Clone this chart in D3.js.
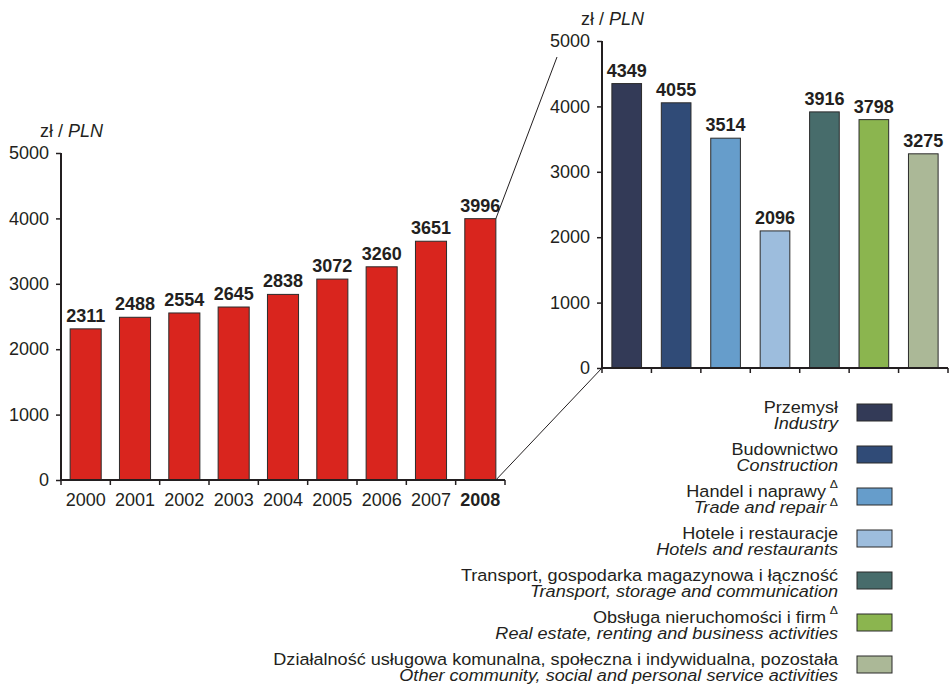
<!DOCTYPE html>
<html><head><meta charset="utf-8">
<script src="https://cdn.jsdelivr.net/npm/d3@7"></script>
<style>
body{margin:0;background:#fff;}
svg text{font-family:"Liberation Sans",Arial,sans-serif;fill:#231f20;}
</style></head>
<body><svg id="c" width="950" height="685"></svg>
<script>
const years = ["2000","2001","2002","2003","2004","2005","2006","2007","2008"];
const yearValues = [2311,2488,2554,2645,2838,3072,3260,3651,3996];
const sectors = ["Industry","Construction","Trade","Hotels","Transport","RealEstate","Other"];
const sectorValues = [4349,4055,3514,2096,3916,3798,3275];
const sectorColors = ["#333a57","#304b77","#669dcb","#9dbddd","#476c6b","#8bb54f","#abb897"];
const legendPL = ["Przemysł","Budownictwo","Handel i naprawy","Hotele i restauracje","Transport, gospodarka magazynowa i łączność","Obsługa nieruchomości i firm","Działalność usługowa komunalna, społeczna i indywidualna, pozostała"];
const legendEN = ["Industry","Construction","Trade and repair","Hotels and restaurants","Transport, storage and communication","Real estate, renting and business activities","Other community, social and personal service activities"];
const legendDeltaPL = [false,false,true,false,false,true,false];
const legendDeltaEN = [false,false,true,false,false,false,false];
const yTicks = [0,1000,2000,3000,4000,5000];
const unitPL = "zł", unitEN = "PLN";

const svg = d3.select("#c");
const ink = "#231f20";
const FS = "18px";

function chart(g, cats, vals, colors, xr, yr, pad, showLabels, boldLast){
  const x = d3.scaleBand().domain(cats).range(xr).paddingInner(pad).paddingOuter(pad/2);
  const y = d3.scaleLinear().domain([0,5000]).range(yr);
  g.selectAll("rect.bar").data(vals).join("rect").attr("class","bar")
    .attr("x",(d,i)=>x(cats[i])).attr("width",x.bandwidth())
    .attr("y",d=>y(d)).attr("height",d=>y(0)-y(d))
    .attr("fill",(d,i)=>colors[i]).attr("stroke","#2b2b2b").attr("stroke-width",1);
  g.selectAll("text.val").data(vals).join("text").attr("class","val")
    .attr("x",(d,i)=>x(cats[i])+x.bandwidth()/2).attr("y",d=>y(d)-7)
    .attr("text-anchor","middle").style("font-size",FS).style("font-weight","bold")
    .text(d=>d);
  const ya = g.append("g").attr("transform",`translate(${xr[0]},0)`)
    .call(d3.axisLeft(y).tickValues(yTicks).tickSize(5).tickPadding(7).tickFormat(d3.format("d")));
  ya.select(".domain").attr("stroke",ink).attr("stroke-width",2).attr("d",`M0,${y(5000)}V${y(0)}`);
  ya.selectAll(".tick line").attr("stroke",ink).attr("stroke-width",1.5);
  ya.selectAll(".tick text").style("font-size",FS).attr("fill",ink);
  const xa = g.append("g").attr("transform",`translate(0,${y(0)})`)
    .call(d3.axisBottom(x).tickSize(0).tickPadding(13));
  xa.select(".domain").attr("stroke",ink).attr("stroke-width",2).attr("d",`M${xr[0]},0H${xr[1]}`);
  xa.selectAll(".tick text").style("font-size",FS).attr("fill",ink)
    .style("font-weight",(d,i)=>boldLast && i===cats.length-1?"bold":"normal")
    .style("display",showLabels?null:"none");
  const bounds = d3.range(cats.length+1).map(i=>xr[0]+i*x.step());
  xa.selectAll("line.bt").data(bounds).join("line").attr("class","bt")
    .attr("x1",d=>d).attr("x2",d=>d).attr("y1",0).attr("y2",5)
    .attr("stroke",ink).attr("stroke-width",1.5);
  const u = g.append("text").attr("x",xr[0]-21).attr("y",y(5000)-16).style("font-size",FS);
  u.append("tspan").text(unitPL+" / ");
  u.append("tspan").style("font-style","italic").text(unitEN);
  return {x,y};
}

const L = chart(svg.append("g"), years, yearValues, years.map(()=>"#d9251e"), [61,505], [480,153], 0.37, true, true);
const R = chart(svg.append("g"), sectors, sectorValues, sectorColors, [602,948], [368,41], 0.4, false, false);

const last = years[years.length-1];
const xe = L.x(last)+L.x.bandwidth();
svg.append("line").attr("x1",xe).attr("y1",L.y(yearValues[yearValues.length-1])).attr("x2",557).attr("y2",57)
  .attr("stroke",ink).attr("stroke-width",1);
svg.append("line").attr("x1",xe).attr("y1",L.y(0)).attr("x2",602).attr("y2",R.y(0))
  .attr("stroke",ink).attr("stroke-width",1);

const lg = svg.append("g");
const rows = lg.selectAll("g.row").data(sectors).join("g").attr("class","row")
  .attr("transform",(d,i)=>`translate(0,${404+i*42})`);
rows.append("rect").attr("x",857).attr("y",0).attr("width",35).attr("height",17)
  .attr("fill",(d,i)=>sectorColors[i]).attr("stroke","#2b2b2b").attr("stroke-width",1);
rows.each(function(d,i){
  const r = d3.select(this).append("g").attr("transform","translate(838,0) scale(1.11,1)");
  const t1 = r.append("text").attr("x",0).attr("y",9.3).attr("text-anchor","end").style("font-size","16.3px");
  t1.append("tspan").text(legendPL[i]);
  if(legendDeltaPL[i]) t1.append("tspan").attr("dy",-9).attr("dx",3.5).style("font-size","11px").text("Δ");
  const t2 = r.append("text").attr("x",0).attr("y",25.3).attr("text-anchor","end").style("font-size","16.3px");
  t2.append("tspan").style("font-style","italic").text(legendEN[i]);
  if(legendDeltaEN[i]) t2.append("tspan").attr("dy",-7).attr("dx",3.5).style("font-size","11px").text("Δ");
});
</script></body></html>
